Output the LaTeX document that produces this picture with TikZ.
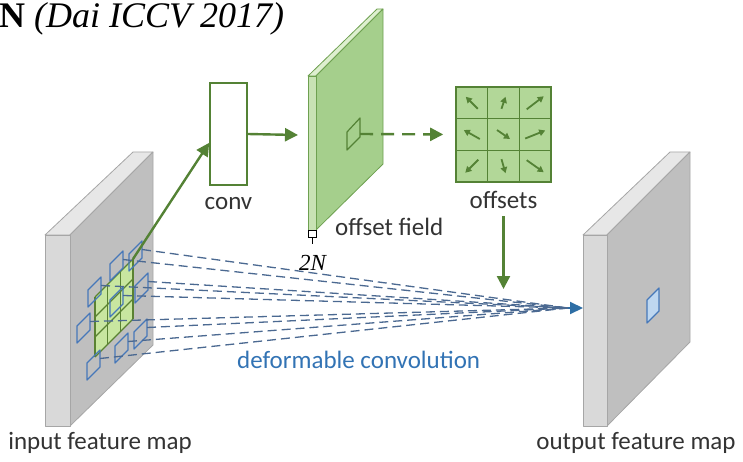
\documentclass[tikz,border=0pt]{standalone}
\usepackage{fontspec}
\setmainfont{Carlito}
\newfontfamily\titlefont{Liberation Serif}
\usetikzlibrary{arrows.meta,calc}

\definecolor{slabfront}{RGB}{217,217,217}
\definecolor{slabface}{RGB}{191,191,191}
\definecolor{slabtop}{RGB}{231,231,231}
\definecolor{slabline}{RGB}{166,166,166}
\definecolor{fieldface}{RGB}{165,207,140}
\definecolor{fieldfront}{RGB}{200,226,180}
\definecolor{fieldtop}{RGB}{222,239,208}
\definecolor{fieldline}{RGB}{110,160,80}
\definecolor{darkgreen}{RGB}{84,130,53}
\definecolor{cellfill}{RGB}{178,215,152}
\definecolor{gridfill}{RGB}{200,230,160}
\definecolor{gridline}{RGB}{90,130,50}
\definecolor{sampleblue}{RGB}{70,120,185}
\definecolor{dashblue}{RGB}{75,105,145}
\definecolor{arrowblue}{RGB}{46,110,165}
\definecolor{labelblue}{RGB}{50,115,180}
\definecolor{pixblue}{RGB}{190,215,240}

\begin{document}
\begin{tikzpicture}[x=1pt,y=-1pt,
  slab/.style={draw=slabline, line width=0.8pt, line join=round},
  fieldslab/.style={draw=fieldline, line width=0.8pt, line join=round},
  greenarrow/.style={draw=darkgreen, line width=2.4pt, -{Triangle[length=13pt,width=13pt]}},
  cellarrow/.style={draw=darkgreen, line width=1.8pt, -{Triangle[length=6pt,width=6.5pt]}},
  samplebox/.style={draw=sampleblue, line width=1.3pt, line join=round},
  convline/.style={draw=dashblue, line width=1.3pt, dash pattern=on 9pt off 5pt},
  label/.style={inner sep=0pt, font=\fontsize{25}{30}\selectfont, text=black!80},
  convbox/.style={draw=darkgreen, line width=1.6pt, fill=white, minimum width=37pt, minimum height=102pt, inner sep=0pt},
  offsetgrid/.style={draw=darkgreen, line width=1.6pt, fill=cellfill, minimum width=95pt, minimum height=95pt, inner sep=0pt}
]
\useasboundingbox (0,0) rectangle (743,462);

% title line, cut at the left edge
\node[anchor=base west, inner sep=0pt] (title) at (-1,28)
  {\titlefont\fontsize{36}{40}\selectfont{\bfseries N} \textit{(Dai ICCV 2017)}};

% ---------- input feature map ----------
\fill[slabtop] (45,235) -- (70,235) -- (153,152) -- (133,152) -- cycle;
\draw[slab] (45,235) -- (70,235) -- (153,152) -- (133,152) -- cycle;
\filldraw[slab, fill=slabface] (70,235) -- (153,152) -- (153,345) -- (70,426) -- cycle;
\filldraw[slab, fill=slabfront] (45,235) rectangle (70,426);

% regular 3x3 sampling grid on the input
\fill[gridfill] (95,357) -- (95,297) -- (133,259) -- (133,319) -- cycle;
\foreach \i in {0,...,3}
  \draw[gridline, line width=1.2pt] (95+12.667*\i, 357-12.667*\i) -- (95+12.667*\i, 297-12.667*\i);
\foreach \j in {0,...,3}
  \draw[gridline, line width=1.2pt] (95, 357-20*\j) -- (133, 319-20*\j);
\coordinate (gridTR) at (133,259);

% deformed sampling locations
\foreach \x/\y [count=\n] in {110/281, 129/271, 88/307, 135/303, 110/317, 77/343, 87/380, 115/363, 134/349} {
  \draw[samplebox] (\x,\y) -- (\x,\y-17) -- (\x+13,\y-30) -- (\x+13,\y-13) -- cycle;
  \coordinate (s\n) at (\x+13,\y-21.5);
}

% ---------- output feature map ----------
\fill[slabtop] (583,235) -- (607,235) -- (690,152) -- (670,152) -- cycle;
\draw[slab] (583,235) -- (607,235) -- (690,152) -- (670,152) -- cycle;
\filldraw[slab, fill=slabface] (607,235) -- (690,152) -- (690,342) -- (607,426) -- cycle;
\filldraw[slab, fill=slabfront] (583,235) rectangle (607,426);
\filldraw[draw=sampleblue, line width=1.2pt, fill=pixblue, line join=round]
  (647,323) -- (647,300) -- (659,288) -- (659,311) -- cycle;
\coordinate (tip) at (583,308);
\coordinate (merge) at (568,308);

% ---------- conv ----------
\node[convbox] (conv) at (228.5,134) {};
\node[label, anchor=base] (convlabel) at (228.5,210) {conv};

% ---------- offset field ----------
\filldraw[fieldslab, fill=fieldtop] (308,76) -- (316,76) -- (383,9) -- (377,9) -- cycle;
\filldraw[fieldslab, fill=fieldface] (316,76) -- (383,9) -- (383,164) -- (316,230) -- cycle;
\filldraw[fieldslab, fill=fieldfront] (308,76) rectangle (316,230);
\draw[draw=darkgreen, line width=1.2pt, line join=round]
  (347,150) -- (347,132) -- (360,118) -- (360,137) -- cycle;
\coordinate (fieldpix) at (360,134);
\coordinate (fieldfront) at (308,135);
\node[label, anchor=base west] (fieldlabel) at (335,235) {offset field};

% channel depth marker
\draw[black, line width=0.9pt, fill=white] (308,230) rectangle (316,237);
\coordinate (depthtop) at (312,237);
\coordinate (depthbot) at (312,244);
\draw[black, line width=0.9pt] (depthtop) -- (depthbot);
\node[inner sep=0pt, anchor=base] (depthlabel) at (313,270)
  {\titlefont\fontsize{23}{26}\selectfont\textit{2N}};

% ---------- offsets ----------
\node[offsetgrid] (offs) at (503.5,134.5) {};
\begin{scope}[shift={(offs.center)}]
  \foreach \k in {-15.83,15.83} {
    \draw[darkgreen, line width=1.4pt] (\k,-47.5) -- (\k,47.5);
    \draw[darkgreen, line width=1.4pt] (-47.5,\k) -- (47.5,\k);
  }
  \foreach \cx/\cy/\dx/\dy in {-31.7/-31.7/-12/-12, 0/-31.7/4/-12, 31.7/-31.7/17/-13,
                               -31.7/0/-16/-9, 0/0/13/9, 31.7/0/20/-8,
                               -31.7/31.7/-13/13, 0/31.7/4/14, 31.7/31.7/17/12}
    \draw[cellarrow] (\cx-\dx/2, \cy-\dy/2) -- (\cx+\dx/2, \cy+\dy/2);
\end{scope}
\node[label, anchor=base] (offslabel) at (503.5,208) {offsets};
\coordinate (outtop) at (503.5,289);

% ---------- connectors ----------
\draw[greenarrow] (gridTR) -- ([yshift=43pt]conv.south west);
\draw[greenarrow] (conv.east) -- ([xshift=-10pt]fieldfront);
\draw[darkgreen, line width=2.4pt, dash pattern=on 13pt off 8pt,
      -{Triangle[length=13pt,width=13pt]}, shorten >=12pt] (fieldpix) -- (offs.west);
\draw[greenarrow, shorten <=8pt] (offslabel.south) -- (outtop);

\foreach \n in {1,...,9}
  \draw[convline] (s\n) -- (merge);
\draw[draw=arrowblue, line width=2pt, -{Triangle[length=13pt,width=12pt]}] (merge) -- (tip);
\node[label, anchor=base west, text=labelblue] (dclabel) at (237,368) {deformable convolution};

% ---------- map labels ----------
\node[label, anchor=base] (inlabel) at (100,449) {input feature map};
\node[label, anchor=base] (outlabel) at (636,449) {output feature map};
\end{tikzpicture}
\end{document}
